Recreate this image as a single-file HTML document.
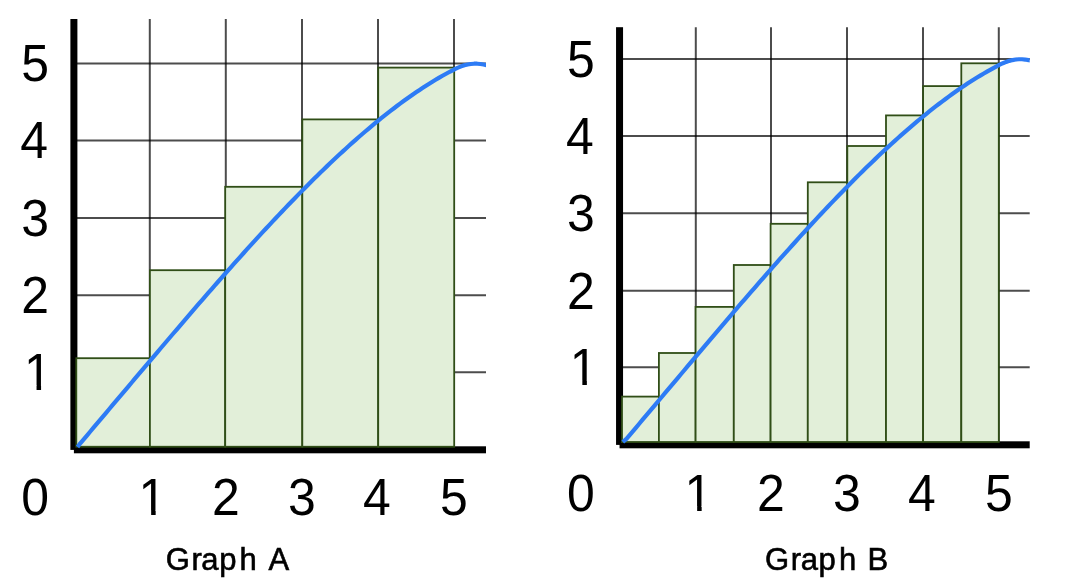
<!DOCTYPE html>
<html><head><meta charset="utf-8"><title>Graphs</title>
<style>
html,body{margin:0;padding:0;background:#fff;}
body{width:1081px;height:579px;overflow:hidden;position:relative;}
svg{position:absolute;left:0;top:0;display:block;}
svg text{font-family:"Liberation Sans",sans-serif;font-size:52px;fill:#000;}
svg text.cap{font-size:31px;fill:#000;stroke:#000;stroke-width:0.6px;}
</style></head>
<body>
<svg width="1081" height="579" viewBox="0 0 1081 579">
<rect width="1081" height="579" fill="#fff"/>
<defs><clipPath id="ca"><rect x="0" y="0" width="486" height="579"/></clipPath><clipPath id="cb"><rect x="540" y="0" width="489.7" height="579"/></clipPath><clipPath id="c1" clipPathUnits="userSpaceOnUse"><rect x="-20" y="-45" width="40" height="40.6"/><rect x="-1.3" y="-6" width="4.7" height="7"/></clipPath></defs>
<g id="graphA">
<line x1="149.8" y1="19" x2="149.8" y2="449.8" stroke="rgba(0,0,0,0.7)" stroke-width="2.0"/>
<line x1="225.8" y1="19" x2="225.8" y2="449.8" stroke="rgba(0,0,0,0.7)" stroke-width="2.0"/>
<line x1="302" y1="19" x2="302" y2="449.8" stroke="rgba(0,0,0,0.7)" stroke-width="2.0"/>
<line x1="378" y1="19" x2="378" y2="449.8" stroke="rgba(0,0,0,0.7)" stroke-width="2.0"/>
<line x1="454" y1="19" x2="454" y2="449.8" stroke="rgba(0,0,0,0.7)" stroke-width="2.0"/>
<line x1="73.9" y1="63.4" x2="486" y2="63.4" stroke="rgba(0,0,0,0.7)" stroke-width="2.0"/>
<line x1="73.9" y1="140.6" x2="486" y2="140.6" stroke="rgba(0,0,0,0.7)" stroke-width="2.0"/>
<line x1="73.9" y1="218.1" x2="486" y2="218.1" stroke="rgba(0,0,0,0.7)" stroke-width="2.0"/>
<line x1="73.9" y1="295.3" x2="486" y2="295.3" stroke="rgba(0,0,0,0.7)" stroke-width="2.0"/>
<line x1="73.9" y1="372.3" x2="486" y2="372.3" stroke="rgba(0,0,0,0.7)" stroke-width="2.0"/>
<rect x="70.4" y="19" width="7" height="430.90" fill="#000"/>
<rect x="73.9" y="446.3" width="412.10" height="7" fill="#000"/>
<rect x="76.3" y="358.2" width="73.60" height="88.55" fill="#e2efd9" stroke="#304e17" stroke-width="1.8"/>
<rect x="149.9" y="270.2" width="75.30" height="176.55" fill="#e2efd9" stroke="#304e17" stroke-width="1.8"/>
<rect x="225.2" y="186.8" width="77.10" height="259.95" fill="#e2efd9" stroke="#304e17" stroke-width="1.8"/>
<rect x="302.3" y="119.4" width="75.90" height="327.35" fill="#e2efd9" stroke="#304e17" stroke-width="1.8"/>
<rect x="378.2" y="67.6" width="76.00" height="379.15" fill="#e2efd9" stroke="#304e17" stroke-width="1.8"/>
<path clip-path="url(#ca)" d="M77.50 447.00 L80.50 443.08 L83.70 439.30 L86.90 435.52 L90.10 431.74 L93.30 427.95 L96.50 424.17 L99.69 420.38 L102.89 416.59 L106.09 412.80 L109.29 409.01 L112.49 405.22 L115.69 401.43 L118.89 397.65 L122.09 393.86 L125.29 390.07 L128.49 386.28 L131.69 382.49 L134.89 378.71 L138.09 374.93 L141.28 371.14 L144.48 367.36 L147.68 363.59 L150.88 359.81 L154.08 356.04 L157.28 352.28 L160.48 348.51 L163.68 344.75 L166.88 341.00 L170.08 337.25 L173.28 333.50 L176.48 329.76 L179.68 326.02 L182.87 322.29 L186.07 318.57 L189.27 314.85 L192.47 311.14 L195.67 307.44 L198.87 303.74 L202.07 300.06 L205.27 296.38 L208.47 292.71 L211.67 289.04 L214.87 285.39 L218.07 281.75 L221.27 278.11 L224.46 274.49 L227.66 270.88 L230.86 267.27 L234.06 263.68 L237.26 260.11 L240.46 256.54 L243.66 252.99 L246.86 249.44 L250.06 245.92 L253.26 242.40 L256.46 238.90 L259.66 235.42 L262.86 231.95 L266.05 228.49 L269.25 225.06 L272.45 221.63 L275.65 218.23 L278.85 214.84 L282.05 211.47 L285.25 208.11 L288.45 204.78 L291.65 201.46 L294.85 198.17 L298.05 194.89 L301.25 191.63 L304.44 188.40 L307.64 185.18 L310.84 181.99 L314.04 178.82 L317.24 175.67 L320.44 172.55 L323.64 169.45 L326.84 166.37 L330.04 163.32 L333.24 160.29 L336.44 157.29 L339.64 154.31 L342.84 151.36 L346.03 148.44 L349.23 145.54 L352.43 142.68 L355.63 139.84 L358.83 137.03 L362.03 134.25 L365.23 131.50 L368.43 128.78 L371.63 126.10 L374.83 123.44 L378.03 120.82 L381.23 118.23 L384.43 115.67 L387.62 113.15 L390.82 110.66 L394.02 108.21 L397.22 105.79 L400.42 103.41 L403.62 101.07 L406.82 98.77 L410.02 96.50 L413.22 94.27 L416.42 92.08 L419.62 89.93 L422.82 87.82 L426.02 85.75 L429.21 83.73 L432.41 81.75 L435.61 79.80 L438.81 77.91 L442.01 76.05 L445.21 74.25 L448.41 72.49 L451.61 70.78 L454.81 69.14 L458.01 67.64 L461.21 66.35 L464.41 65.30 L467.61 64.51 L470.80 63.98 L474.00 63.72 L477.20 63.72 L480.40 63.99 L483.60 64.52 L486.80 65.32 L490.00 66.39" fill="none" stroke="#2d7bf5" stroke-width="4.2" stroke-linecap="butt" stroke-linejoin="round"/>
<text transform="translate(35.20 81.00) scale(0.96 1)" x="0" y="0" text-anchor="middle">5</text>
<text transform="translate(34.20 158.20) scale(0.96 1)" x="0" y="0" text-anchor="middle">4</text>
<text transform="translate(35.20 235.70) scale(0.96 1)" x="0" y="0" text-anchor="middle">3</text>
<text transform="translate(35.20 312.90) scale(0.96 1)" x="0" y="0" text-anchor="middle">2</text>
<g transform="translate(37.80 389.90) scale(0.96 1)"><text x="0" y="0" text-anchor="middle" clip-path="url(#c1)">1</text></g>
<text transform="translate(35.20 515.00) scale(0.96 1)" x="0" y="0" text-anchor="middle">0</text>
<g transform="translate(152.40 515.00) scale(0.96 1)"><text x="0" y="0" text-anchor="middle" clip-path="url(#c1)">1</text></g>
<text transform="translate(225.80 515.00) scale(0.96 1)" x="0" y="0" text-anchor="middle">2</text>
<text transform="translate(302.00 515.00) scale(0.96 1)" x="0" y="0" text-anchor="middle">3</text>
<text transform="translate(377.00 515.00) scale(0.96 1)" x="0" y="0" text-anchor="middle">4</text>
<text transform="translate(454.00 515.00) scale(0.96 1)" x="0" y="0" text-anchor="middle">5</text>
</g>
<g id="graphB">
<line x1="695.8" y1="27.2" x2="695.8" y2="444.8" stroke="rgba(0,0,0,0.7)" stroke-width="2.0"/>
<line x1="771" y1="27.2" x2="771" y2="444.8" stroke="rgba(0,0,0,0.7)" stroke-width="2.0"/>
<line x1="847" y1="27.2" x2="847" y2="444.8" stroke="rgba(0,0,0,0.7)" stroke-width="2.0"/>
<line x1="923" y1="27.2" x2="923" y2="444.8" stroke="rgba(0,0,0,0.7)" stroke-width="2.0"/>
<line x1="998.8" y1="27.2" x2="998.8" y2="444.8" stroke="rgba(0,0,0,0.7)" stroke-width="2.0"/>
<line x1="619.55" y1="58.9" x2="1029.7" y2="58.9" stroke="rgba(0,0,0,0.7)" stroke-width="2.0"/>
<line x1="619.55" y1="135.9" x2="1029.7" y2="135.9" stroke="rgba(0,0,0,0.7)" stroke-width="2.0"/>
<line x1="619.55" y1="213.2" x2="1029.7" y2="213.2" stroke="rgba(0,0,0,0.7)" stroke-width="2.0"/>
<line x1="619.55" y1="290.8" x2="1029.7" y2="290.8" stroke="rgba(0,0,0,0.7)" stroke-width="2.0"/>
<line x1="619.55" y1="367.3" x2="1029.7" y2="367.3" stroke="rgba(0,0,0,0.7)" stroke-width="2.0"/>
<rect x="616.05" y="27.2" width="7" height="417.70" fill="#000"/>
<rect x="619.55" y="441.3" width="410.15" height="7" fill="#000"/>
<rect x="622.0" y="396.6" width="36.90" height="45.40" fill="#e2efd9" stroke="#304e17" stroke-width="1.8"/>
<rect x="658.9" y="353" width="36.70" height="89.00" fill="#e2efd9" stroke="#304e17" stroke-width="1.8"/>
<rect x="695.6" y="306.9" width="38.20" height="135.10" fill="#e2efd9" stroke="#304e17" stroke-width="1.8"/>
<rect x="733.8" y="265" width="36.80" height="177.00" fill="#e2efd9" stroke="#304e17" stroke-width="1.8"/>
<rect x="770.6" y="223.8" width="37.20" height="218.20" fill="#e2efd9" stroke="#304e17" stroke-width="1.8"/>
<rect x="807.8" y="182.3" width="39.50" height="259.70" fill="#e2efd9" stroke="#304e17" stroke-width="1.8"/>
<rect x="847.3" y="146" width="38.70" height="296.00" fill="#e2efd9" stroke="#304e17" stroke-width="1.8"/>
<rect x="886" y="115.4" width="37.10" height="326.60" fill="#e2efd9" stroke="#304e17" stroke-width="1.8"/>
<rect x="923.1" y="86.1" width="38.20" height="355.90" fill="#e2efd9" stroke="#304e17" stroke-width="1.8"/>
<rect x="961.3" y="63.3" width="37.50" height="378.70" fill="#e2efd9" stroke="#304e17" stroke-width="1.8"/>
<path clip-path="url(#cb)" d="M622.80 442.00 L626.68 438.63 L629.87 434.85 L633.06 431.07 L636.24 427.29 L639.43 423.50 L642.62 419.72 L645.81 415.93 L649.00 412.14 L652.19 408.35 L655.38 404.56 L658.56 400.77 L661.75 396.98 L664.94 393.20 L668.13 389.41 L671.32 385.62 L674.51 381.83 L677.70 378.04 L680.89 374.26 L684.07 370.48 L687.26 366.69 L690.45 362.91 L693.64 359.14 L696.83 355.36 L700.02 351.59 L703.21 347.83 L706.39 344.06 L709.58 340.30 L712.77 336.55 L715.96 332.80 L719.15 329.05 L722.34 325.31 L725.53 321.57 L728.72 317.84 L731.90 314.12 L735.09 310.40 L738.28 306.69 L741.47 302.99 L744.66 299.29 L747.85 295.61 L751.04 291.93 L754.22 288.26 L757.41 284.59 L760.60 280.94 L763.79 277.30 L766.98 273.66 L770.17 270.04 L773.36 266.43 L776.55 262.82 L779.73 259.23 L782.92 255.66 L786.11 252.09 L789.30 248.54 L792.49 244.99 L795.68 241.47 L798.87 237.95 L802.05 234.45 L805.24 230.97 L808.43 227.50 L811.62 224.04 L814.81 220.61 L818.00 217.18 L821.19 213.78 L824.38 210.39 L827.56 207.02 L830.75 203.66 L833.94 200.33 L837.13 197.01 L840.32 193.72 L843.51 190.44 L846.70 187.18 L849.88 183.95 L853.07 180.73 L856.26 177.54 L859.45 174.37 L862.64 171.22 L865.83 168.10 L869.02 165.00 L872.21 161.92 L875.39 158.87 L878.58 155.84 L881.77 152.84 L884.96 149.86 L888.15 146.91 L891.34 143.99 L894.53 141.09 L897.71 138.23 L900.90 135.39 L904.09 132.58 L907.28 129.80 L910.47 127.05 L913.66 124.33 L916.85 121.65 L920.04 118.99 L923.22 116.37 L926.41 113.78 L929.60 111.22 L932.79 108.70 L935.98 106.21 L939.17 103.76 L942.36 101.34 L945.54 98.96 L948.73 96.62 L951.92 94.32 L955.11 92.05 L958.30 89.82 L961.49 87.63 L964.68 85.48 L967.87 83.37 L971.05 81.30 L974.24 79.28 L977.43 77.30 L980.62 75.35 L983.81 73.46 L987.00 71.60 L990.19 69.80 L993.37 68.04 L996.56 66.33 L999.75 64.69 L1002.94 63.19 L1006.13 61.90 L1009.32 60.85 L1012.51 60.06 L1015.70 59.53 L1018.88 59.27 L1022.07 59.27 L1025.26 59.54 L1028.45 60.07 L1031.64 60.87 L1034.83 61.94" fill="none" stroke="#2d7bf5" stroke-width="4.2" stroke-linecap="butt" stroke-linejoin="round"/>
<text transform="translate(581.00 76.80) scale(0.96 1)" x="0" y="0" text-anchor="middle">5</text>
<text transform="translate(580.00 153.80) scale(0.96 1)" x="0" y="0" text-anchor="middle">4</text>
<text transform="translate(581.00 231.10) scale(0.96 1)" x="0" y="0" text-anchor="middle">3</text>
<text transform="translate(581.00 308.70) scale(0.96 1)" x="0" y="0" text-anchor="middle">2</text>
<g transform="translate(583.60 385.20) scale(0.96 1)"><text x="0" y="0" text-anchor="middle" clip-path="url(#c1)">1</text></g>
<text transform="translate(581.00 510.50) scale(0.96 1)" x="0" y="0" text-anchor="middle">0</text>
<g transform="translate(698.40 510.50) scale(0.96 1)"><text x="0" y="0" text-anchor="middle" clip-path="url(#c1)">1</text></g>
<text transform="translate(771.00 510.50) scale(0.96 1)" x="0" y="0" text-anchor="middle">2</text>
<text transform="translate(847.00 510.50) scale(0.96 1)" x="0" y="0" text-anchor="middle">3</text>
<text transform="translate(922.00 510.50) scale(0.96 1)" x="0" y="0" text-anchor="middle">4</text>
<text transform="translate(998.80 510.50) scale(0.96 1)" x="0" y="0" text-anchor="middle">5</text>
</g>
<text class="cap" x="165.66 191.40 201.35 219.30 239.60 257.50 268.50" y="570.3">Graph A</text>
<text class="cap" x="764.96 790.70 800.65 818.60 838.90 856.80 867.50" y="570.3">Graph B</text>
</svg>
</body></html>
